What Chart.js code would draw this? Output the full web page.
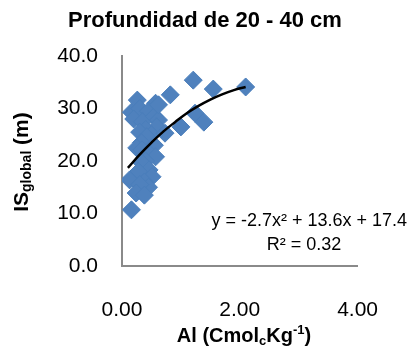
<!DOCTYPE html>
<html>
<head>
<meta charset="utf-8">
<script src="https://cdn.jsdelivr.net/npm/chart.js@4.4.1/dist/chart.umd.min.js"></script>
<style>
  html, body { margin: 0; padding: 0; background: #fff; }
  #wrap { width: 410px; height: 349px; }
</style>
</head>
<body>
<div id="wrap"><canvas id="c" width="410" height="349"></canvas></div>
<script>
// Al (Cmolc/Kg) vs IS global (m), profundidad 20 - 40 cm
const alValues = [0.26, 0.16, 0.30, 0.57, 0.45, 0.20, 0.35, 0.55, 0.62, 0.59,
  0.40, 0.30, 0.50, 0.42, 0.33, 0.55, 0.25, 0.34, 0.45, 0.57,
  0.40, 0.34, 0.46, 0.28, 0.51, 0.13, 0.38, 0.45, 0.30, 0.24,
  0.38, 0.16, 0.82, 1.21, 1.55, 2.10, 1.00, 1.24, 1.39, 0.62, 0.73];
const isValues = [31.6, 29.3, 30.0, 31.0, 29.5, 28.0, 27.5, 28.5, 27.8, 26.5,
  26.0, 25.5, 25.0, 24.6, 23.5, 23.0, 22.5, 22.1, 21.5, 20.8,
  20.0, 19.6, 18.3, 18.0, 17.0, 16.4, 16.0, 15.0, 15.5, 13.9,
  13.5, 10.7, 32.6, 35.4, 33.7, 34.1, 26.5, 29.1, 27.4, 30.7, 25.3];

// trend line
const trendX = [0.1, 0.3, 0.5, 0.7, 0.9, 1.1, 1.3, 1.5, 1.7, 1.9, 2.1];
const trendY = [18.7, 21.2, 23.5, 25.6, 27.4, 29.1, 30.5, 31.7, 32.7, 33.5, 34.1];

const yTicks = [0, 10, 20, 30, 40];
const xTicks = [0, 2, 4];

const titleText = 'Profundidad de 20 - 40 cm';
const eqText = 'y = -2.7x\u00B2 + 13.6x + 17.4';
const r2Text = 'R\u00B2 = 0.32';

const FONT = '"Liberation Sans", Arial, sans-serif';

// draws text made of parts with their own size / baseline shift
function richText(ctx, parts, cx, cy) {
  let total = 0;
  parts.forEach(p => {
    ctx.font = 'bold ' + p.size + 'px ' + FONT;
    p.w = ctx.measureText(p.t).width;
    total += p.w;
  });
  let x = cx - total / 2;
  parts.forEach(p => {
    ctx.font = 'bold ' + p.size + 'px ' + FONT;
    ctx.fillText(p.t, x, cy + (p.dy || 0));
    x += p.w;
  });
}

const labelsPlugin = {
  id: 'labels',
  afterDraw(chart) {
    const ctx = chart.ctx;
    ctx.save();
    ctx.fillStyle = '#000';
    ctx.textBaseline = 'middle';

    // title
    ctx.font = 'bold 22px ' + FONT;
    ctx.textAlign = 'center';
    ctx.fillText(titleText, 205, 21);

    // x axis title
    ctx.textAlign = 'left';
    richText(ctx, [
      { t: 'Al (Cmol', size: 20 },
      { t: 'c', size: 13, dy: 5 },
      { t: 'Kg', size: 20 },
      { t: '-1', size: 13, dy: -6 },
      { t: ')', size: 20 }
    ], 244, 336);

    // y axis title (rotated)
    ctx.save();
    ctx.translate(22, 162);
    ctx.rotate(-Math.PI / 2);
    richText(ctx, [
      { t: 'IS', size: 21 },
      { t: 'global', size: 14, dy: 5 },
      { t: ' (m)', size: 21 }
    ], 0, 0);
    ctx.restore();

    // trend equation
    ctx.font = '18px ' + FONT;
    ctx.textAlign = 'right';
    ctx.fillText(eqText, 407, 221);
    ctx.textAlign = 'center';
    ctx.fillText(r2Text, 304, 245);
    ctx.restore();
  }
};

new Chart(document.getElementById('c'), {
  type: 'scatter',
  data: {
    datasets: [
      {
        type: 'line',
        data: trendX.map((x, i) => ({ x: x, y: trendY[i] })),
        borderColor: '#000',
        borderWidth: 2.5,
        pointRadius: 0,
        tension: 0.4,
        fill: false
      },
      {
        data: alValues.map((x, i) => ({ x: x, y: isValues[i] })),
        pointStyle: 'rectRot',
        pointRadius: 9,
        pointHoverRadius: 9,
        backgroundColor: '#4F81BD',
        borderColor: '#4A7EBB',
        borderWidth: 1
      }
    ]
  },
  options: {
    responsive: false,
    animation: false,
    layout: { padding: { top: 56, right: 43, left: 0, bottom: 0 } },
    plugins: {
      legend: { display: false },
      tooltip: { enabled: false },
      title: { display: false }
    },
    scales: {
      x: {
        type: 'linear',
        min: 0,
        max: 4,
        afterBuildTicks: s => { s.ticks = xTicks.map(v => ({ value: v })); },
        afterFit: s => { s.height = 83; },
        grid: { display: false, drawTicks: false },
        border: { display: true, color: '#8a8a8a', width: 2 },
        ticks: {
          padding: 32,
          color: '#000',
          font: { family: FONT, size: 21 },
          callback: v => v.toFixed(2)
        }
      },
      y: {
        min: 0,
        max: 40,
        afterBuildTicks: s => { s.ticks = yTicks.map(v => ({ value: v })); },
        afterFit: s => { s.width = 122; },
        grid: { display: false, drawTicks: false },
        border: { display: true, color: '#8a8a8a', width: 2 },
        ticks: {
          padding: 24,
          color: '#000',
          font: { family: FONT, size: 21 },
          callback: v => v.toFixed(1)
        }
      }
    }
  },
  plugins: [labelsPlugin]
});
</script>
</body>
</html>
